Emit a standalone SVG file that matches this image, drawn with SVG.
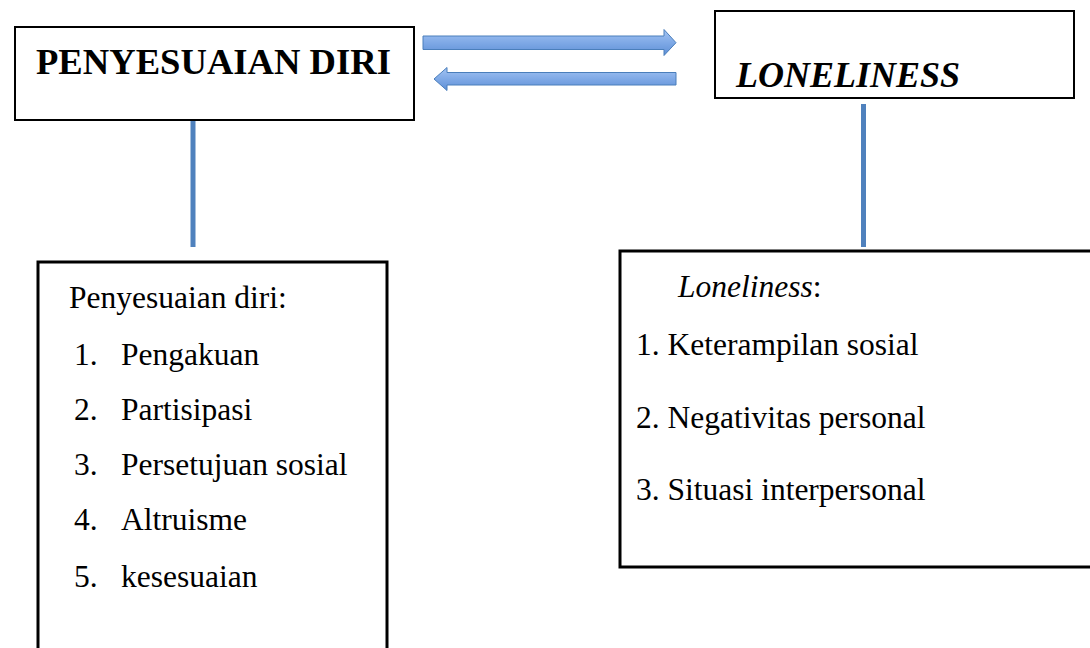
<svg xmlns="http://www.w3.org/2000/svg" width="1090" height="648" viewBox="0 0 1090 648">
<style>
.box{fill:#ffffff;stroke:#000000}
.thin{stroke-width:2}
.thick{stroke-width:3}
.t{font-family:"Liberation Serif","Times New Roman",serif;fill:#000000}
.title{font-size:36px;font-weight:bold}
.item{font-size:31.5px}
.arrow{fill:url(#blueGrad);stroke:#4a7ebb;stroke-width:1}
.vline{fill:#4f81bd}
</style>
<defs>
<linearGradient id="blueGrad" x1="0" y1="0" x2="0" y2="1">
<stop offset="0" stop-color="#a3c4f3"/>
<stop offset="0.5" stop-color="#7fa9e6"/>
<stop offset="1" stop-color="#5e8fd6"/>
</linearGradient>
</defs>
<rect width="1090" height="648" fill="#ffffff"/>
<g id="connectors">
<polygon class="arrow" points="423,36 664,36 664,29.5 676,42.7 664,55.5 664,49.5 423,49.5"/>
<polygon class="arrow" points="676,72.5 447,72.5 447,67.5 434,79 447,90.5 447,85 676,85"/>
<rect class="vline" x="190.5" y="116" width="5" height="131"/>
<rect class="vline" x="861" y="104" width="5" height="143"/>
</g>
<g id="node-penyesuaian-diri">
<rect class="box thin" x="15" y="27" width="399" height="93"/>
<text class="t title" x="36" y="74" textLength="355" lengthAdjust="spacingAndGlyphs">PENYESUAIAN DIRI</text>
</g>
<g id="node-loneliness">
<rect class="box thin" x="715" y="11" width="359" height="87"/>
<text class="t title" x="736" y="87" font-style="italic">LONELINESS</text>
</g>
<g id="node-penyesuaian-list">
<rect class="box thick" x="38" y="262" width="349" height="400"/>
<text class="t item" x="69" y="308">Penyesuaian diri:</text>
<text class="t item" x="74" y="365">1.</text><text class="t item" x="121" y="365">Pengakuan</text>
<text class="t item" x="74" y="420">2.</text><text class="t item" x="121" y="420">Partisipasi</text>
<text class="t item" x="74" y="475">3.</text><text class="t item" x="121" y="475">Persetujuan sosial</text>
<text class="t item" x="74" y="530">4.</text><text class="t item" x="121" y="530">Altruisme</text>
<text class="t item" x="74" y="587">5.</text><text class="t item" x="121" y="587">kesesuaian</text>
</g>
<g id="node-loneliness-list">
<rect class="box thick" x="620" y="251" width="480" height="316"/>
<text class="t item" x="678" y="297"><tspan font-style="italic">Loneliness</tspan>:</text>
<text class="t item" x="636" y="355">1. Keterampilan sosial</text>
<text class="t item" x="636" y="428">2. Negativitas personal</text>
<text class="t item" x="636" y="500">3. Situasi interpersonal</text>
</g>
</svg>
